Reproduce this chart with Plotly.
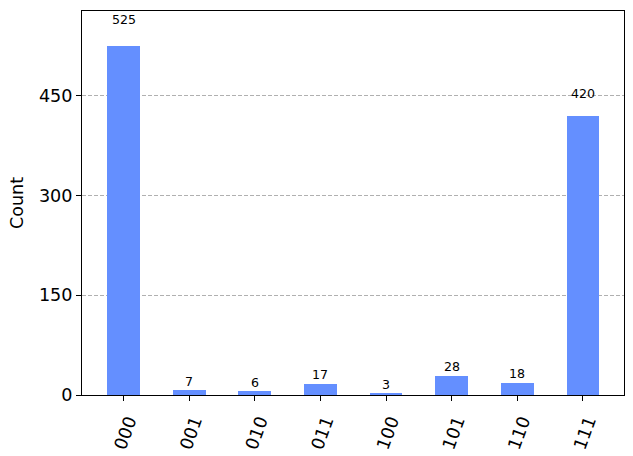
import plotly.graph_objects as go

states = ["000", "001", "010", "011", "100", "101", "110", "111"]
counts = [525, 7, 6, 17, 3, 28, 18, 420]
y_ticks = [0, 150, 300, 450]

BAR = "#648fff"
FONT = "DejaVu Sans"

fig = go.Figure()
fig.add_trace(go.Bar(
    x=list(range(len(states))), y=counts, width=0.5,
    marker=dict(color=BAR, line=dict(width=0)),
    hoverinfo="skip",
))

for i, v in enumerate(counts):
    fig.add_annotation(
        x=i, y=1.05 * v, text=str(v), showarrow=False,
        xanchor="center", yanchor="bottom", borderpad=0,
        font=dict(family=FONT, size=12.6, color="black"),
    )

ymax = max(counts) * 1.1
fig.update_layout(
    width=633, height=456,
    margin=dict(l=82, r=9, t=11, b=61, autoexpand=False),
    paper_bgcolor="white", plot_bgcolor="white",
    showlegend=False,
    font=dict(family=FONT, color="black"),
    bargap=0,
)
fig.update_xaxes(
    range=[-0.633, 7.625], automargin=False,
    tickmode="array", tickvals=list(range(len(states))), ticktext=states,
    tickangle=-70, tickfont=dict(family=FONT, size=17.6, color="black"),
    ticklabelshift=5, ticklabelstandoff=3,
    ticks="outside", ticklen=5, tickwidth=1, tickcolor="black",
    showline=True, linecolor="black", linewidth=1, mirror=True,
    showgrid=False, zeroline=False,
)
fig.update_yaxes(
    range=[0, ymax], automargin=False,
    tickmode="array", tickvals=y_ticks, ticktext=[str(t) for t in y_ticks],
    tickfont=dict(family=FONT, size=17.6, color="black"),
    ticks="outside", ticklen=5, tickwidth=1, tickcolor="black",
    showline=True, linecolor="black", linewidth=1, mirror=True,
    showgrid=True, gridcolor="#b0b0b0", griddash="4px,2px", gridwidth=1,
    zeroline=False,
    title=dict(text="Count", font=dict(family=FONT, size=17.6, color="black"), standoff=10),
)

fig.write_html(
    "out.html",
    config={"displayModeBar": False},
    post_script="document.body.style.margin='0';document.body.style.padding='0';",
)
